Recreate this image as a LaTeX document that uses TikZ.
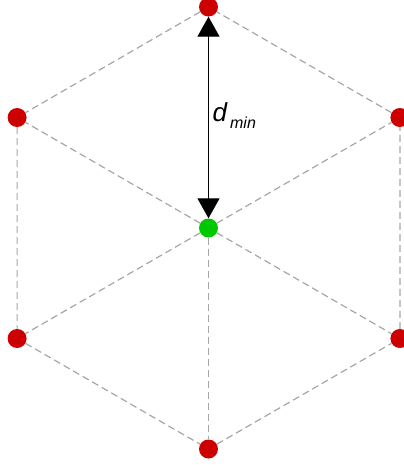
\documentclass[tikz,border=0pt]{standalone}
\usepackage{fontspec}
\setmainfont{Liberation Sans}
\usepackage{tikz}
\usetikzlibrary{arrows.meta,positioning}

\definecolor{ptred}{HTML}{CC0000}
\definecolor{ptgreen}{HTML}{00C800}
\definecolor{gridgray}{HTML}{A6A6A6}

\begin{document}
\begin{tikzpicture}[
  x=1pt, y=-1pt,
  pt/.style={circle, fill=ptred, minimum size=19pt, inner sep=0pt},
  ctr/.style={circle, fill=ptgreen, minimum size=19pt, inner sep=0pt},
  grid/.style={draw=gridgray, line width=1.2pt, dash pattern=on 7pt off 4pt},
  arr/.style={{Triangle[width=22pt,length=20pt]}-{Triangle[width=22pt,length=20pt]}, line width=1.2pt}
]
\useasboundingbox (0,0) rectangle (404,467);
\node[ctr] (c) at (208.5,228) {};
\node[pt] (top) at (208.5,7) {};
\node[pt] (ul) at (17.1,117.5) {};
\node[pt] (ur) at (399.9,117.5) {};
\node[pt] (ll) at (17.1,338.5) {};
\node[pt] (lr) at (399.9,338.5) {};
\node[pt] (bot) at (208.5,449) {};
% hexagon edges and spokes
\draw[grid] (top) -- (ul) -- (ll) -- (bot) -- (lr) -- (ur) -- (top);
\draw[grid] (c) -- (ul);
\draw[grid] (c) -- (ur);
\draw[grid] (c) -- (ll);
\draw[grid] (c) -- (lr);
\draw[grid] (c) -- (bot);
% distance
\draw[arr] (top) -- (c);
\node[anchor=base west, inner sep=0pt, font=\fontsize{26}{26}\selectfont\itshape]
  (lbl) at (212.5,121) {d\hspace{3pt}\raisebox{-7pt}{\fontsize{16}{16}\selectfont min}};
\end{tikzpicture}
\end{document}
